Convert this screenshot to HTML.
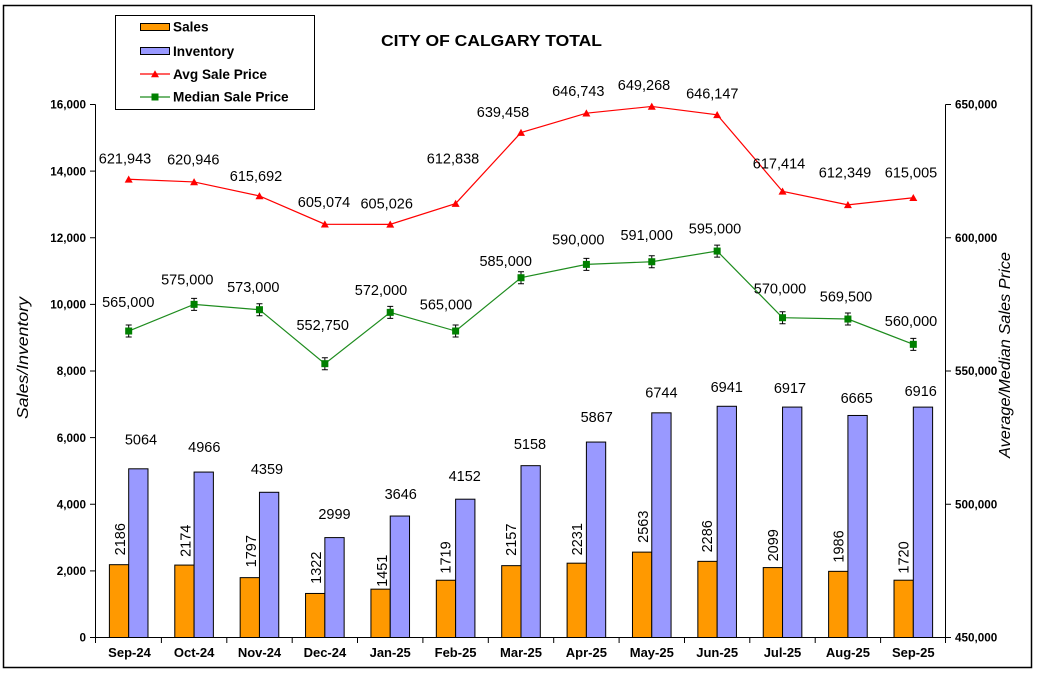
<!DOCTYPE html>
<html><head><meta charset="utf-8"><style>
html,body{margin:0;padding:0;background:#fff;}
svg{display:block;}
text{font-family:"Liberation Sans",Arial,sans-serif;}
</style></head><body>
<svg width="1038" height="674" viewBox="0 0 1038 674" xmlns="http://www.w3.org/2000/svg">
<rect x="0" y="0" width="1038" height="674" fill="#fff"/>
<rect x="3.5" y="5.5" width="1028" height="662" fill="none" stroke="#000" stroke-width="1.5"/>

<!-- Title -->
<text x="491.5" y="46" font-size="15.5" font-weight="bold" text-anchor="middle" textLength="221" lengthAdjust="spacingAndGlyphs">CITY OF CALGARY TOTAL</text>

<!-- Legend -->
<rect x="115.5" y="15.5" width="199" height="94" fill="#fff" stroke="#000" stroke-width="1"/>
<rect x="140.5" y="23.5" width="29" height="7" fill="#FF9900" stroke="#000" stroke-width="1"/>
<text x="173" y="31.6" font-size="13.6" font-weight="bold">Sales</text>
<rect x="140.5" y="47.5" width="29" height="7" fill="#9999FF" stroke="#000" stroke-width="1"/>
<text x="173" y="55.9" font-size="13.6" font-weight="bold">Inventory</text>
<line x1="140" y1="74" x2="170" y2="74" stroke="#FF0000" stroke-width="1.2"/>
<polygon points="151,77.3 159,77.3 155,70.2" fill="#FF0000"/>
<text x="173" y="78.9" font-size="13.6" font-weight="bold">Avg Sale Price</text>
<line x1="140" y1="97" x2="170" y2="97" stroke="#1e8c1e" stroke-width="1.2"/>
<rect x="151.5" y="93.5" width="7" height="7" fill="#008000"/>
<text x="173" y="101.6" font-size="13.6" font-weight="bold">Median Sale Price</text>

<!-- Axis titles -->
<text transform="translate(23,358) rotate(-90)" x="0" y="5" font-size="16" font-style="italic" text-anchor="middle" textLength="122" lengthAdjust="spacingAndGlyphs">Sales/Inventory</text>
<text transform="translate(1005,355) rotate(-90)" x="0" y="5" font-size="16" font-style="italic" text-anchor="middle" textLength="206" lengthAdjust="spacingAndGlyphs">Average/Median Sales Price</text>

<!-- Bars -->
<g stroke="#000" stroke-width="1">
<rect x="109.39" y="564.68" width="19.3" height="72.82" fill="#FF9900"/>
<rect x="128.69" y="468.81" width="19.3" height="168.69" fill="#9999FF"/>
<rect x="174.78" y="565.08" width="19.3" height="72.42" fill="#FF9900"/>
<rect x="194.08" y="472.07" width="19.3" height="165.43" fill="#9999FF"/>
<rect x="240.16" y="577.64" width="19.3" height="59.86" fill="#FF9900"/>
<rect x="259.46" y="492.29" width="19.3" height="145.21" fill="#9999FF"/>
<rect x="305.55" y="593.46" width="19.3" height="44.04" fill="#FF9900"/>
<rect x="324.85" y="537.60" width="19.3" height="99.90" fill="#9999FF"/>
<rect x="370.93" y="589.16" width="19.3" height="48.34" fill="#FF9900"/>
<rect x="390.23" y="516.04" width="19.3" height="121.46" fill="#9999FF"/>
<rect x="436.32" y="580.24" width="19.3" height="57.26" fill="#FF9900"/>
<rect x="455.62" y="499.19" width="19.3" height="138.31" fill="#9999FF"/>
<rect x="501.70" y="565.65" width="19.3" height="71.85" fill="#FF9900"/>
<rect x="521.00" y="465.67" width="19.3" height="171.83" fill="#9999FF"/>
<rect x="567.09" y="563.18" width="19.3" height="74.32" fill="#FF9900"/>
<rect x="586.39" y="442.06" width="19.3" height="195.44" fill="#9999FF"/>
<rect x="632.47" y="552.12" width="19.3" height="85.38" fill="#FF9900"/>
<rect x="651.77" y="412.84" width="19.3" height="224.66" fill="#9999FF"/>
<rect x="697.85" y="561.35" width="19.3" height="76.15" fill="#FF9900"/>
<rect x="717.15" y="406.28" width="19.3" height="231.22" fill="#9999FF"/>
<rect x="763.24" y="567.58" width="19.3" height="69.92" fill="#FF9900"/>
<rect x="782.54" y="407.08" width="19.3" height="230.42" fill="#9999FF"/>
<rect x="828.62" y="571.34" width="19.3" height="66.16" fill="#FF9900"/>
<rect x="847.92" y="415.47" width="19.3" height="222.03" fill="#9999FF"/>
<rect x="894.01" y="580.20" width="19.3" height="57.30" fill="#FF9900"/>
<rect x="913.31" y="407.11" width="19.3" height="230.39" fill="#9999FF"/>
</g>

<!-- Axes -->
<g stroke="#000" stroke-width="1" fill="none">
<line x1="95.5" y1="104.5" x2="95.5" y2="638"/>
<line x1="945.5" y1="104.5" x2="945.5" y2="638"/>
<line x1="95.5" y1="637.5" x2="945.5" y2="637.5"/>
<line x1="90" y1="104.5" x2="95.5" y2="104.5"/>
<line x1="90" y1="171.1" x2="95.5" y2="171.1"/>
<line x1="90" y1="237.75" x2="95.5" y2="237.75"/>
<line x1="90" y1="304.4" x2="95.5" y2="304.4"/>
<line x1="90" y1="371" x2="95.5" y2="371"/>
<line x1="90" y1="437.6" x2="95.5" y2="437.6"/>
<line x1="90" y1="504.25" x2="95.5" y2="504.25"/>
<line x1="90" y1="570.9" x2="95.5" y2="570.9"/>
<line x1="90" y1="637.5" x2="95.5" y2="637.5"/>
<line x1="945.5" y1="104.5" x2="951" y2="104.5"/>
<line x1="945.5" y1="237.75" x2="951" y2="237.75"/>
<line x1="945.5" y1="371" x2="951" y2="371"/>
<line x1="945.5" y1="504.25" x2="951" y2="504.25"/>
<line x1="945.5" y1="637.5" x2="951" y2="637.5"/>
<line x1="95.5" y1="637.5" x2="95.5" y2="643"/>
<line x1="161.4" y1="637.5" x2="161.4" y2="643"/>
<line x1="226.8" y1="637.5" x2="226.8" y2="643"/>
<line x1="292.2" y1="637.5" x2="292.2" y2="643"/>
<line x1="357.5" y1="637.5" x2="357.5" y2="643"/>
<line x1="422.9" y1="637.5" x2="422.9" y2="643"/>
<line x1="488.3" y1="637.5" x2="488.3" y2="643"/>
<line x1="553.7" y1="637.5" x2="553.7" y2="643"/>
<line x1="619.1" y1="637.5" x2="619.1" y2="643"/>
<line x1="684.5" y1="637.5" x2="684.5" y2="643"/>
<line x1="749.8" y1="637.5" x2="749.8" y2="643"/>
<line x1="815.2" y1="637.5" x2="815.2" y2="643"/>
<line x1="880.6" y1="637.5" x2="880.6" y2="643"/>
<line x1="945.5" y1="637.5" x2="945.5" y2="643"/>
</g>

<!-- Left tick labels -->
<g font-size="11.7" font-weight="bold" text-anchor="end">
<text x="86" y="108.7">16,000</text>
<text x="86" y="175.3">14,000</text>
<text x="86" y="242">12,000</text>
<text x="86" y="308.6">10,000</text>
<text x="86" y="375.2">8,000</text>
<text x="86" y="441.8">6,000</text>
<text x="86" y="508.5">4,000</text>
<text x="86" y="575.1">2,000</text>
<text x="86" y="641.7">0</text>
</g>
<!-- Right tick labels -->
<g font-size="11.7" font-weight="bold" text-anchor="start">
<text x="955" y="108.7">650,000</text>
<text x="955" y="242">600,000</text>
<text x="955" y="375.2">550,000</text>
<text x="955" y="508.5">500,000</text>
<text x="955" y="641.7">450,000</text>
</g>
<!-- X labels -->
<g font-size="13" font-weight="bold" text-anchor="middle">
<text x="129.5" y="657">Sep-24</text>
<text x="194.1" y="657">Oct-24</text>
<text x="259.5" y="657">Nov-24</text>
<text x="324.9" y="657">Dec-24</text>
<text x="390.2" y="657">Jan-25</text>
<text x="455.6" y="657">Feb-25</text>
<text x="521" y="657">Mar-25</text>
<text x="586.4" y="657">Apr-25</text>
<text x="651.8" y="657">May-25</text>
<text x="717.2" y="657">Jun-25</text>
<text x="782.5" y="657">Jul-25</text>
<text x="847.9" y="657">Aug-25</text>
<text x="913.3" y="657">Sep-25</text>
</g>

<!-- Avg line -->
<polyline fill="none" stroke="#FF0000" stroke-width="1.2" points="128.69,179.27 194.08,181.93 259.46,195.93 324.85,224.23 390.23,224.36 455.62,203.54 521.00,132.59 586.39,113.18 651.77,106.45 717.15,114.77 782.54,191.34 847.92,204.84 913.31,197.76"/>
<g fill="#FF0000">
<polygon points="124.69,182.57 132.69,182.57 128.69,175.47"/>
<polygon points="190.08,185.23 198.08,185.23 194.08,178.13"/>
<polygon points="255.46,199.23 263.46,199.23 259.46,192.13"/>
<polygon points="320.85,227.53 328.85,227.53 324.85,220.43"/>
<polygon points="386.23,227.66 394.23,227.66 390.23,220.56"/>
<polygon points="451.62,206.84 459.62,206.84 455.62,199.74"/>
<polygon points="517.00,135.89 525.00,135.89 521.00,128.79"/>
<polygon points="582.39,116.48 590.39,116.48 586.39,109.38"/>
<polygon points="647.77,109.75 655.77,109.75 651.77,102.65"/>
<polygon points="713.15,118.07 721.15,118.07 717.15,110.97"/>
<polygon points="778.54,194.64 786.54,194.64 782.54,187.54"/>
<polygon points="843.92,208.14 851.92,208.14 847.92,201.04"/>
<polygon points="909.31,201.06 917.31,201.06 913.31,193.96"/>
</g>

<!-- Median line -->
<polyline fill="none" stroke="#1e8c1e" stroke-width="1.2" points="128.69,331.02 194.08,304.37 259.46,309.70 324.85,363.67 390.23,312.37 455.62,331.02 521.00,277.72 586.39,264.40 651.77,261.73 717.15,251.07 782.54,317.70 847.92,319.03 913.31,344.35"/>
<g stroke="#000" stroke-width="1" fill="none">
<path d="M128.69,325 V337 M125.69,325 H131.69 M125.69,337 H131.69"/>
<path d="M194.08,298.4 V310.4 M191.08,298.4 H197.08 M191.08,310.4 H197.08"/>
<path d="M259.46,303.7 V315.7 M256.46,303.7 H262.46 M256.46,315.7 H262.46"/>
<path d="M324.85,357.7 V369.7 M321.85,357.7 H327.85 M321.85,369.7 H327.85"/>
<path d="M390.23,306.4 V318.4 M387.23,306.4 H393.23 M387.23,318.4 H393.23"/>
<path d="M455.62,325 V337 M452.62,325 H458.62 M452.62,337 H458.62"/>
<path d="M521.00,271.7 V283.7 M518,271.7 H524 M518,283.7 H524"/>
<path d="M586.39,258.4 V270.4 M583.39,258.4 H589.39 M583.39,270.4 H589.39"/>
<path d="M651.77,255.7 V267.7 M648.77,255.7 H654.77 M648.77,267.7 H654.77"/>
<path d="M717.15,245.1 V257.1 M714.15,245.1 H720.15 M714.15,257.1 H720.15"/>
<path d="M782.54,311.7 V323.7 M779.54,311.7 H785.54 M779.54,323.7 H785.54"/>
<path d="M847.92,313 V325 M844.92,313 H850.92 M844.92,325 H850.92"/>
<path d="M913.31,338.4 V350.4 M910.31,338.4 H916.31 M910.31,350.4 H916.31"/>
</g>
<g fill="#008000">
<rect x="125.19" y="327.52" width="7" height="7"/>
<rect x="190.58" y="300.87" width="7" height="7"/>
<rect x="255.96" y="306.20" width="7" height="7"/>
<rect x="321.35" y="360.17" width="7" height="7"/>
<rect x="386.73" y="308.87" width="7" height="7"/>
<rect x="452.12" y="327.52" width="7" height="7"/>
<rect x="517.50" y="274.22" width="7" height="7"/>
<rect x="582.89" y="260.90" width="7" height="7"/>
<rect x="648.27" y="258.23" width="7" height="7"/>
<rect x="713.65" y="247.57" width="7" height="7"/>
<rect x="779.04" y="314.20" width="7" height="7"/>
<rect x="844.42" y="315.53" width="7" height="7"/>
<rect x="909.81" y="340.85" width="7" height="7"/>
</g>

<!-- Data labels: avg -->
<g font-size="14.5" text-anchor="middle" fill="#000">
<text x="125" y="163.5">621,943</text>
<text x="193.3" y="164.5">620,946</text>
<text x="256" y="181.2">615,692</text>
<text x="324" y="206.9">605,074</text>
<text x="386.7" y="208.5">605,026</text>
<text x="453" y="163.5">612,838</text>
<text x="503" y="116.9">639,458</text>
<text x="578.3" y="96.2">646,743</text>
<text x="644" y="90.2">649,268</text>
<text x="712.3" y="98.5">646,147</text>
<text x="779" y="168.5">617,414</text>
<text x="845" y="177.5">612,349</text>
<text x="911" y="177.5">615,005</text>
</g>
<!-- Data labels: median -->
<g font-size="14.5" text-anchor="middle" fill="#000">
<text x="128.3" y="306.9">565,000</text>
<text x="187.3" y="284.5">575,000</text>
<text x="253.3" y="292.2">573,000</text>
<text x="322.7" y="330.2">552,750</text>
<text x="381" y="295.2">572,000</text>
<text x="446" y="309.5">565,000</text>
<text x="505.7" y="265.9">585,000</text>
<text x="578.3" y="244.5">590,000</text>
<text x="646.7" y="240.2">591,000</text>
<text x="715" y="233.5">595,000</text>
<text x="780" y="293.5">570,000</text>
<text x="846" y="301.5">569,500</text>
<text x="911" y="326.2">560,000</text>
</g>
<!-- Data labels: inventory -->
<g font-size="14.5" text-anchor="middle" fill="#000">
<text x="141" y="444.5">5064</text>
<text x="204.3" y="451.9">4966</text>
<text x="267" y="474.2">4359</text>
<text x="334.5" y="519.2">2999</text>
<text x="400.7" y="499.2">3646</text>
<text x="464.7" y="481.2">4152</text>
<text x="530" y="449.2">5158</text>
<text x="596.7" y="421.9">5867</text>
<text x="661.4" y="397.5">6744</text>
<text x="726.7" y="391.9">6941</text>
<text x="790" y="392.9">6917</text>
<text x="856.7" y="402.9">6665</text>
<text x="920.7" y="395.9">6916</text>
</g>
<!-- Data labels: sales (rotated) -->
<g font-size="14.5" text-anchor="middle" fill="#000">
<text transform="translate(120,539.2) rotate(-90)" x="0" y="5.2">2186</text>
<text transform="translate(185.3,540.8) rotate(-90)" x="0" y="5.2">2174</text>
<text transform="translate(251,551.2) rotate(-90)" x="0" y="5.2">1797</text>
<text transform="translate(316,567.7) rotate(-90)" x="0" y="5.2">1322</text>
<text transform="translate(381.7,570.8) rotate(-90)" x="0" y="5.2">1451</text>
<text transform="translate(445.5,557.5) rotate(-90)" x="0" y="5.2">1719</text>
<text transform="translate(510.7,539.7) rotate(-90)" x="0" y="5.2">2157</text>
<text transform="translate(576.7,539.2) rotate(-90)" x="0" y="5.2">2231</text>
<text transform="translate(642.7,526.7) rotate(-90)" x="0" y="5.2">2563</text>
<text transform="translate(706.7,536.3) rotate(-90)" x="0" y="5.2">2286</text>
<text transform="translate(772.7,545.3) rotate(-90)" x="0" y="5.2">2099</text>
<text transform="translate(838.3,546.5) rotate(-90)" x="0" y="5.2">1986</text>
<text transform="translate(903.3,557.5) rotate(-90)" x="0" y="5.2">1720</text>
</g>
</svg>
</body></html>
